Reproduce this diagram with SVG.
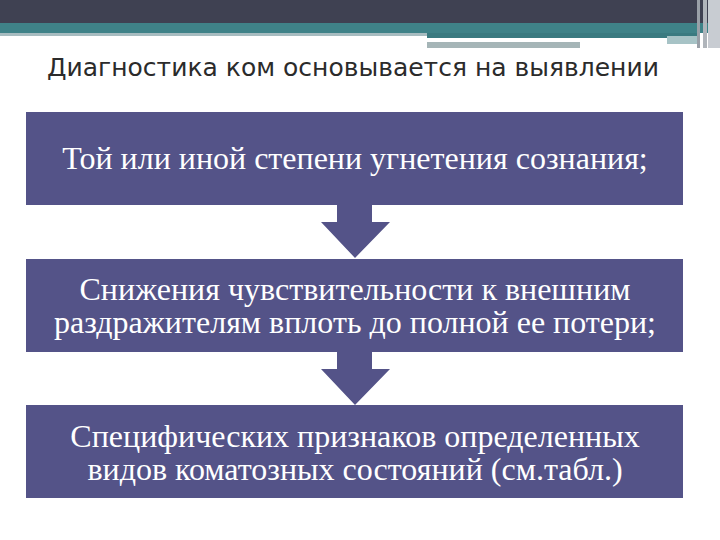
<svg xmlns="http://www.w3.org/2000/svg" width="720" height="540" viewBox="0 0 720 540">
<style>
.box{fill:#545388}
.t{font-family:"Liberation Serif","Times New Roman",serif;font-size:32px;fill:#ffffff;text-anchor:middle}
.title{font-family:"DejaVu Sans","Liberation Sans",sans-serif;font-size:25px;fill:#2b2b2b}
.arrow{fill:#545388}
</style>
<rect width="720" height="540" fill="#ffffff"/>
<g id="header">
<rect x="0" y="0" width="720" height="23" fill="#3f4152"/>
<rect x="0" y="23" width="720" height="10" fill="#3f8288"/>
<rect x="0" y="33" width="427" height="3" fill="#a7bcc0"/>
<rect x="427" y="33" width="270" height="5" fill="#3a7a80"/>
<rect x="427" y="38" width="240" height="4" fill="#ffffff"/>
<rect x="667" y="36" width="30" height="8" fill="#a7c3c6"/>
<rect x="427" y="42" width="153" height="6" fill="#a5b5b7"/>
<rect x="697" y="0" width="3" height="48" fill="#9aa0a8"/>
<rect x="703" y="0" width="4" height="48" fill="#b0b5bb"/>
<rect x="708" y="0" width="12" height="48" fill="#c8ccd2"/>
</g>
<text class="title" x="47" y="76">Диагностика ком основывается на выявлении</text>
<g id="connectors">
<polygon class="arrow" points="337,205 372,205 372,222 390,222 355,258 321,222 337,222"/>
<polygon class="arrow" points="337,352 372,352 372,369 390,369 355,405 321,369 337,369"/>
</g>
<g id="node1">
<rect class="box" x="26" y="112" width="657" height="93"/>
<text class="t" x="355" y="169">Той или иной степени угнетения сознания;</text>
</g>
<g id="node2">
<rect class="box" x="26" y="259" width="657" height="93"/>
<text class="t" x="355" y="300">Снижения чувствительности к внешним</text>
<text class="t" x="355" y="333">раздражителям вплоть до полной ее потери;</text>
</g>
<g id="node3">
<rect class="box" x="26" y="405" width="657" height="93"/>
<text class="t" x="355" y="447">Специфических признаков определенных</text>
<text class="t" x="355" y="480">видов коматозных состояний (см.табл.)</text>
</g>
</svg>
